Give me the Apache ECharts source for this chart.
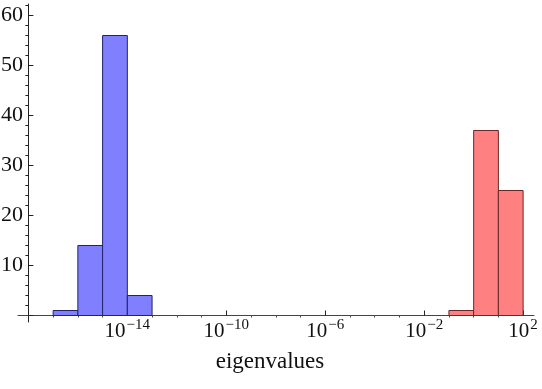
<!DOCTYPE html>
<html>
<head>
<meta charset="utf-8">
<script src="https://cdn.jsdelivr.net/npm/echarts@6/dist/echarts.min.js"></script>
<style>
  html, body { margin: 0; padding: 0; background: #fff; }
  #chart { width: 542px; height: 389px; }
</style>
</head>
<body>
<div id="chart"></div>
<script>
// histogram bins on log10 scale (bin edges are exponents)
const blueEdges = [-17, -16, -15, -14, -13]
const blueCounts = [1, 14, 56, 4]
const redEdges = [-1, 0, 1, 2]
const redCounts = [1, 37, 25]

const xMajor = [-14, -10, -6, -2, 2]
const xMinor = [-17, -16, -15, -13, -12, -11, -9, -8, -7, -5, -4, -3, -1, 0, 1]
const yMajor = [0, 10, 20, 30, 40, 50, 60]
const yLabels = [10, 20, 30, 40, 50, 60]
const yMinor = [2, 4, 6, 8, 12, 14, 16, 18, 22, 24, 26, 28, 32, 34, 36, 38, 42, 44, 46, 48, 52, 54, 56, 58, 62]

const X_MIN = -18.42, X_MAX = 2.44, X_CROSS = -18
const SERIF = 'Liberation Serif'

function binsToData(edges, counts) {
  return counts.map((c, i) => [edges[i], edges[i + 1], c])
}

function histSeries(name, data, fill, stroke) {
  return {
    name,
    type: 'custom',
    xAxisIndex: 0,
    yAxisIndex: 0,
    encode: { x: [0, 1], y: 2 },
    renderItem(params, api) {
      const lo = api.coord([api.value(0), 0])
      const hi = api.coord([api.value(1), api.value(2)])
      return {
        type: 'rect',
        shape: { x: lo[0], y: hi[1], width: hi[0] - lo[0], height: lo[1] - hi[1] },
        style: { fill, stroke, lineWidth: 1 }
      }
    },
    data
  }
}

const chart = echarts.init(document.getElementById('chart'), null, { renderer: 'canvas' })
chart.setOption({
  animation: false,
  backgroundColor: '#fff',
  grid: { left: 18, right: 8, top: 4, bottom: 67, containLabel: false, outerBoundsMode: 'none' },
  xAxis: [
    {
      type: 'value',
      min: X_MIN, max: X_MAX,
      axisLine: { onZero: true, lineStyle: { color: '#444', width: 1 } },
      axisTick: { inside: true, length: 5, customValues: xMajor, lineStyle: { color: '#222' } },
      splitLine: { show: false },
      axisLabel: {
        customValues: xMajor,
        margin: -4,
        formatter: v => '{b|10}{s|' + String(v).replace('-', '\u2212') + '}',
        rich: {
          b: { fontFamily: SERIF, fontSize: 21, color: '#111', lineHeight: 24, verticalAlign: 'bottom' },
          s: { fontFamily: SERIF, fontSize: 15, color: '#111', lineHeight: 24, verticalAlign: 'top', padding: [0, 0, 0, 1] }
        }
      },
      name: 'eigenvalues',
      nameLocation: 'middle',
      nameGap: 28,
      nameTextStyle: { fontFamily: SERIF, fontSize: 23, color: '#111', padding: [0, 12, 0, 0] }
    },
    {
      // same scale shifted so that 0 sits at 10^-18: the y axis crosses here
      type: 'value',
      min: X_MIN - X_CROSS, max: X_MAX - X_CROSS,
      axisLine: { show: false, onZero: true },
      axisTick: { inside: true, length: 2, customValues: xMinor.map(v => v - X_CROSS), lineStyle: { color: '#444' } },
      axisLabel: { show: false },
      splitLine: { show: false }
    }
  ],
  yAxis: [
    {
      type: 'value',
      min: -1.3, max: 62.3,
      axisLine: { onZero: true, onZeroAxisIndex: 1, lineStyle: { color: '#222', width: 1 } },
      axisTick: { inside: true, length: 5, customValues: yMajor, lineStyle: { color: '#222' } },
      splitLine: { show: false },
      axisLabel: {
        customValues: yLabels,
        margin: -5,
        fontFamily: SERIF, fontSize: 22, color: '#111'
      }
    },
    {
      type: 'value',
      min: -1.3, max: 62.3,
      axisLine: { show: false, onZero: true, onZeroAxisIndex: 1 },
      axisTick: { inside: true, length: 3, customValues: yMinor, lineStyle: { color: '#222' } },
      axisLabel: { show: false },
      splitLine: { show: false }
    }
  ],
  series: [
    histSeries('small', binsToData(blueEdges, blueCounts), '#8080ff', '#22226a'),
    histSeries('large', binsToData(redEdges, redCounts), '#ff8080', '#6a2828')
  ]
})
</script>
</body>
</html>
